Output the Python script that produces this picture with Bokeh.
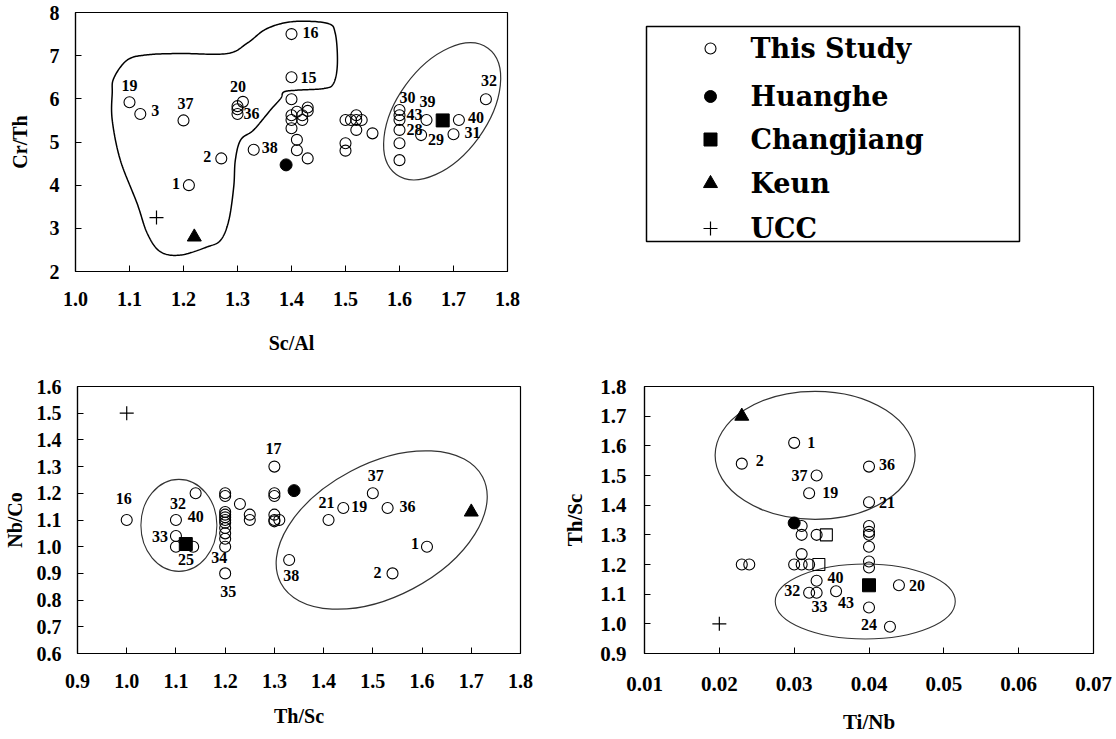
import numpy as np
from bokeh.plotting import figure
from bokeh.layouts import row, column
from bokeh.models import Range1d, FixedTicker, NumeralTickFormatter
from bokeh.core.properties import value
from bokeh.embed import file_html
from bokeh.resources import INLINE

# ---------------- Sc/Al vs Cr/Th ----------------
study1_x = [1.10, 1.12, 1.20, 1.31, 1.30, 1.30, 1.30, 1.27, 1.33, 1.21,
            1.40, 1.40, 1.40, 1.40, 1.40, 1.41, 1.40, 1.41, 1.41, 1.43, 1.43, 1.43, 1.42, 1.42,
            1.50, 1.51, 1.52, 1.52, 1.53, 1.52, 1.55, 1.50, 1.50,
            1.60, 1.60, 1.60, 1.60, 1.60, 1.60, 1.65, 1.64, 1.71, 1.70, 1.76]
study1_y = [5.92, 5.65, 5.50, 5.93, 5.83, 5.76, 5.65, 4.62, 4.82, 4.00,
            7.50, 6.50, 5.99, 5.62, 5.51, 5.70, 5.32, 5.05, 4.81, 4.62, 5.80, 5.72, 5.51, 5.62,
            5.51, 5.51, 5.62, 5.51, 5.51, 5.28, 5.20, 4.97, 4.80,
            5.74, 5.62, 5.51, 5.28, 4.97, 4.58, 5.51, 5.16, 5.51, 5.18, 5.99]
study1_id = ["19", "3", "37", "20", "", "", "36", "2", "38", "1",
             "16", "15", "", "", "", "", "", "", "", "", "", "", "", "",
             "", "", "", "", "", "", "", "", "",
             "30", "43", "", "28", "", "", "39", "29", "40", "31", "32"]
ref1 = {"Huanghe": (1.39, 4.47), "Changjiang": (1.68, 5.50), "Keun": (1.22, 2.80), "UCC": (1.15, 3.25)}

# ---------------- Th/Sc vs Nb/Co ----------------
study2_x = [1.00, 1.10, 1.10, 1.10, 1.135, 1.14,
            1.20, 1.20, 1.20, 1.20, 1.20, 1.20, 1.20, 1.20, 1.20, 1.20, 1.20, 1.20,
            1.23, 1.25, 1.25,
            1.30, 1.30, 1.30, 1.30, 1.30, 1.30, 1.31,
            1.33, 1.41, 1.44, 1.50, 1.53, 1.61, 1.54]
study2_y = [1.10, 1.10, 1.04, 1.00, 1.00, 1.20,
            1.20, 1.19, 1.13, 1.12, 1.11, 1.10, 1.09, 1.07, 1.05, 1.03, 1.00, 0.90,
            1.16, 1.12, 1.10,
            1.30, 1.20, 1.19, 1.12, 1.10, 1.095, 1.10,
            0.95, 1.10, 1.145, 1.20, 1.145, 1.00, 0.90]
study2_id = ["16", "32", "33", "25", "", "40",
             "", "", "", "", "", "", "", "", "", "", "34", "35",
             "", "", "",
             "17", "", "", "", "", "", "",
             "38", "21", "19", "37", "36", "1", "2"]
ref2 = {"Huanghe": (1.34, 1.21), "Changjiang": (1.12, 1.01), "Keun": (1.70, 1.13), "UCC": (1.00, 1.50)}

# ---------------- Ti/Nb vs Th/Sc ----------------
study3_x = [0.030, 0.023, 0.033, 0.032, 0.040, 0.040,
            0.031, 0.031, 0.033, 0.031, 0.030, 0.031, 0.032, 0.023, 0.024,
            0.040, 0.040, 0.040, 0.040, 0.040, 0.040,
            0.033, 0.032, 0.033, 0.0356, 0.040, 0.0428, 0.044]
study3_y = [1.61, 1.54, 1.50, 1.44, 1.53, 1.41,
            1.33, 1.30, 1.30, 1.235, 1.20, 1.20, 1.20, 1.20, 1.20,
            1.33, 1.31, 1.30, 1.26, 1.21, 1.19,
            1.145, 1.105, 1.105, 1.11, 1.055, 0.99, 1.13]
study3_id = ["1", "2", "37", "19", "36", "21",
             "", "", "", "", "", "", "", "", "",
             "", "", "", "", "", "",
             "40", "32", "33", "43", "", "24", "20"]
open_sq3_x = [0.0343, 0.0333]
open_sq3_y = [1.30, 1.20]
ref3 = {"Huanghe": (0.030, 1.34), "Changjiang": (0.040, 1.13), "Keun": (0.023, 1.70), "UCC": (0.020, 1.00)}

# axis ticks
ticks1_x = [1.0, 1.1, 1.2, 1.3, 1.4, 1.5, 1.6, 1.7, 1.8]
ticks1_y = [2, 3, 4, 5, 6, 7, 8]
ticks2_x = [0.9, 1.0, 1.1, 1.2, 1.3, 1.4, 1.5, 1.6, 1.7, 1.8]
ticks2_y = [0.6, 0.7, 0.8, 0.9, 1.0, 1.1, 1.2, 1.3, 1.4, 1.5, 1.6]
ticks3_x = [0.01, 0.02, 0.03, 0.04, 0.05, 0.06, 0.07]
ticks3_y = [0.9, 1.0, 1.1, 1.2, 1.3, 1.4, 1.5, 1.6, 1.7, 1.8]

legend_names = ["This Study", "Huanghe", "Changjiang", "Keun", "UCC"]

# hand-drawn grouping outline around the left cluster (Sc/Al, Cr/Th)
blob_x = [1.071, 1.096, 1.133, 1.194, 1.281, 1.318, 1.355, 1.404, 1.466, 1.481, 1.485, 1.478,
          1.46, 1.41, 1.386, 1.38, 1.361, 1.33, 1.306, 1.296, 1.293, 1.284, 1.269, 1.244,
          1.194, 1.157, 1.133, 1.114, 1.083, 1.068, 1.068]
blob_y = [6.48, 6.90, 7.02, 7.05, 7.05, 7.29, 7.63, 7.79, 7.75, 7.52, 6.82, 6.36,
          6.24, 6.20, 6.16, 6.01, 5.74, 5.28, 5.05, 4.58, 3.96, 3.19, 2.73, 2.57,
          2.38, 2.46, 2.88, 3.58, 4.58, 5.51, 6.13]

# label offsets (screen px, +y is down) per plot, keyed by sample number
off1 = {"19": (0, -17), "3": (15, -3), "37": (2, -17), "20": (-5, -15), "36": (14, 0),
        "2": (-14, -2), "38": (16, -2), "1": (-13, -2), "16": (19, -2), "15": (17, 0),
        "30": (8, -13), "43": (15, -1), "28": (15, 0), "39": (1, -18), "29": (15, 4),
        "40": (17, -2), "31": (19, -2), "32": (3, -19)}
off2 = {"16": (-3, -22), "32": (2, -17), "40": (0, 23), "33": (-16, 0), "25": (10, 13),
        "34": (-6, 11), "35": (3, 18), "17": (-1, -18), "38": (2, 15), "21": (-2, -18),
        "19": (16, -1), "37": (3, -18), "36": (20, -1), "1": (-12, -3), "2": (-15, -1)}
off3 = {"1": (17, 0), "2": (18, -3), "37": (-17, 0), "19": (21, -1), "36": (18, -2),
        "21": (18, 0), "40": (19, -3), "32": (-17, -2), "33": (3, 14), "43": (10, 11),
        "20": (18, 0), "24": (-21, -2)}

SERIF = "Liberation Serif"

MARK = {
    "This Study": dict(marker="circle", size=11, fill_color=None, line_color="black", line_width=1.1),
    "Huanghe": dict(marker="circle", size=12, fill_color="black", line_color="black"),
    "Changjiang": dict(marker="square", size=13, fill_color="black", line_color="black"),
    "Keun": dict(marker="triangle", size=14, fill_color="black", line_color="black"),
    "UCC": dict(marker="cross", size=14, fill_color=None, line_color="black", line_width=1.2),
}


def smooth_closed(xs, ys, n=20):
    px, py = np.asarray(xs), np.asarray(ys)
    m = len(px)
    ox, oy = [], []
    for i in range(m):
        p0, p1, p2, p3 = (i - 1) % m, i, (i + 1) % m, (i + 2) % m
        for t in np.linspace(0, 1, n, endpoint=False):
            t2, t3 = t * t, t * t * t
            def cr(a):
                return 0.5 * (2 * a[p1] + (-a[p0] + a[p2]) * t +
                              (2 * a[p0] - 5 * a[p1] + 4 * a[p2] - a[p3]) * t2 +
                              (-a[p0] + 3 * a[p1] - 3 * a[p2] + a[p3]) * t3)
            ox.append(cr(px)); oy.append(cr(py))
    ox.append(ox[0]); oy.append(oy[0])
    return ox, oy


def make_fig(w, h, xr, yr, borders, xt, yt, xfmt, yfmt, xlabel, ylabel, fs,
             xstand, ystand, xlstand, ylstand):
    l, r, t, b = borders
    p = figure(width=w, height=h, x_range=Range1d(*xr), y_range=Range1d(*yr),
               output_backend="svg", toolbar_location=None,
               min_border_left=l, min_border_right=r, min_border_top=t, min_border_bottom=b)
    p.grid.visible = False
    p.outline_line_color = "black"
    p.outline_line_width = 1.2
    p.xaxis.ticker = FixedTicker(ticks=xt)
    p.yaxis.ticker = FixedTicker(ticks=yt)
    p.xaxis.formatter = NumeralTickFormatter(format=xfmt)
    p.yaxis.formatter = NumeralTickFormatter(format=yfmt)
    p.xaxis.axis_label = xlabel
    p.yaxis.axis_label = ylabel
    for ax in (p.xaxis, p.yaxis):
        ax.major_tick_in = 6
        ax.major_tick_out = 0
        ax.minor_tick_line_color = None
        ax.axis_line_color = "black"
        ax.axis_line_width = 1.2
        ax.major_tick_line_color = "black"
        ax.major_label_text_font = SERIF
        ax.major_label_text_font_style = "bold"
        ax.major_label_text_font_size = fs
        ax.major_label_text_color = "black"
        ax.axis_label_text_font = SERIF
        ax.axis_label_text_font_style = "bold"
        ax.axis_label_text_font_size = fs
        ax.axis_label_text_color = "black"
    p.xaxis.major_label_standoff = xstand
    p.yaxis.major_label_standoff = ystand
    p.xaxis.axis_label_standoff = xlstand
    p.yaxis.axis_label_standoff = ylstand
    return p


def draw_points(p, xs, ys, ids, offs, refs, sq=None):
    p.scatter(xs, ys, **MARK["This Study"])
    if sq is not None:
        p.scatter(sq[0], sq[1], marker="square", size=12, fill_color=None, line_color="black", line_width=1.1)
    for name, (x, y) in refs.items():
        p.scatter([x], [y], **MARK[name])
    lx, ly, lt, dx, dy = [], [], [], [], []
    for x, y, s in zip(xs, ys, ids):
        if s:
            lx.append(x); ly.append(y); lt.append(s)
            dx.append(offs[s][0]); dy.append(offs[s][1])
    p.text(x=lx, y=ly, text=lt, x_offset=dx, y_offset=dy,
           text_font=value(SERIF), text_font_size="16px", text_font_style="bold",
           text_align="center", text_baseline="middle", text_color="black")


# --- panel 1 ---
p1 = make_fig(560, 370, (1.0, 1.8), (2, 8), (75, 53, 12, 99), ticks1_x, ticks1_y,
              "0.0", "0", "Sc/Al", "Cr/Th", "20px", 20, 16, 23, 16)
bx, by = smooth_closed(blob_x, blob_y)
p1.line(bx, by, line_color="black", line_width=1.5)
p1.ellipse(x=[1.679], y=[5.71], width=[156], height=[90], angle=[np.radians(54)],
           width_units="screen", height_units="screen", fill_color=None,
           line_color="#333333", line_width=1.2)
draw_points(p1, study1_x, study1_y, study1_id, off1, ref1)

# --- legend panel: frame shares the top/bottom borders of panel 1, so the
# ranges below map one unit to one pixel of the page ---
pl = figure(width=556, height=370, x_range=Range1d(0, 556), y_range=Range1d(271, 12),
            output_backend="svg", toolbar_location=None, x_axis_type=None, y_axis_type=None,
            min_border_left=0, min_border_right=0, min_border_top=12, min_border_bottom=99)
pl.grid.visible = False
pl.outline_line_color = None
pl.quad(left=[86], right=[459], top=[26], bottom=[241], fill_color=None,
        line_color="black", line_width=1.5)
rows_y = [48, 96, 139, 183, 228]
for name, yy in zip(legend_names, rows_y):
    st = dict(MARK[name])
    pl.scatter([150], [yy], **st)
pl.text(x=[190] * len(legend_names), y=rows_y, text=legend_names,
        text_font=value("DejaVu Serif"), text_font_style="bold", text_font_size="27px",
        text_align="left", text_baseline="middle", text_color="black")

# --- panel 2 ---
p2 = make_fig(560, 369, (0.9, 1.8), (0.6, 1.6), (77, 40, 16, 86), ticks2_x, ticks2_y,
              "0.0", "0.0", "Th/Sc", "Nb/Co", "20px", 20, 16, 14, 8)
p2.ellipse(x=[1.518], y=[1.0625], width=[228], height=[133], angle=[np.radians(27.7)],
           width_units="screen", height_units="screen", fill_color=None,
           line_color="#333333", line_width=1.2)
p2.ellipse(x=[1.106], y=[1.08], width=[76], height=[92], angle=[0],
           width_units="screen", height_units="screen", fill_color=None,
           line_color="#333333", line_width=1.1)
draw_points(p2, study2_x, study2_y, study2_id, off2, ref2)

# --- panel 3 ---
p3 = make_fig(556, 369, (0.01, 0.07), (0.9, 1.8), (84, 23, 15, 86), ticks3_x, ticks3_y,
              "0.00", "0.0", "Ti/Nb", "Th/Sc", "21px", 23, 18, 16, 10)
p3.ellipse(x=[0.0328], y=[1.568], width=[200], height=[128], angle=[0],
           width_units="screen", height_units="screen", fill_color=None,
           line_color="#333333", line_width=1.2)
p3.ellipse(x=[0.0395], y=[1.0755], width=[180], height=[75], angle=[0],
           width_units="screen", height_units="screen", fill_color=None,
           line_color="#333333", line_width=1.1)
draw_points(p3, study3_x, study3_y, study3_id, off3, ref3, sq=(open_sq3_x, open_sq3_y))

layout = column(row(p1, pl), row(p2, p3))
open("out.html", "w").write(file_html(layout, INLINE))
